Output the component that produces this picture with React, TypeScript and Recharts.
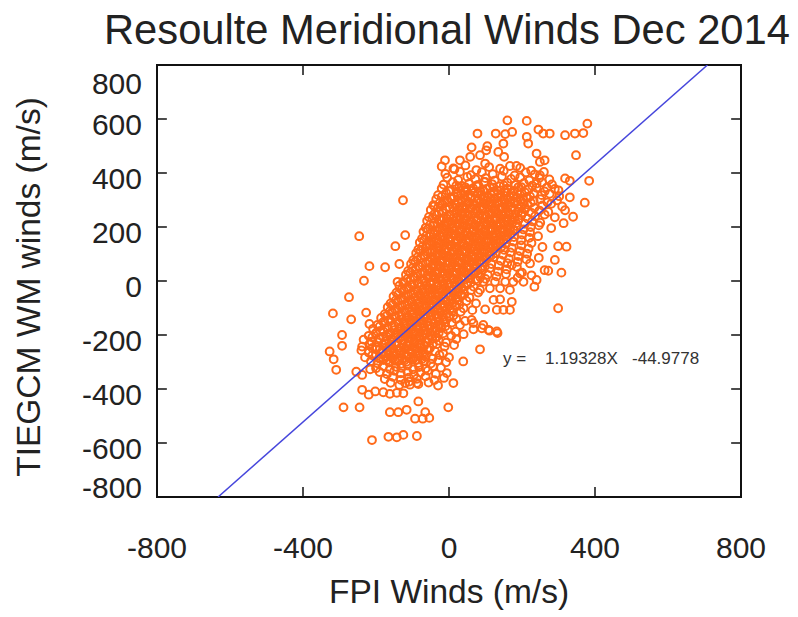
import {
  ReferenceArea,
  ReferenceDot,
  ReferenceLine,
  Scatter,
  ScatterChart,
  XAxis,
  YAxis,
} from "recharts";

const FONT = '"Liberation Sans", Arial, Helvetica, sans-serif';
const DOT_COLOR = "#ff6a1a";
const LINE_COLOR = "#4646dc";

// regression fit printed on the plot
const SLOPE = 1.19328;
const INTERCEPT = -44.9778;

const X_TICKS = [-800, -400, 0, 400, 800];
const Y_TICKS = [-800, -600, -400, -200, 0, 200, 400, 600, 800];

// FPI (x) vs TIEGCM (y), m/s
const sparseUpper = [
  [160, 595], [213, 593], [379, 583], [78, 546], [128, 546], [154, 544], [173, 552],
  [213, 534], [245, 561], [258, 546], [276, 546], [318, 540], [345, 546], [368, 548],
  [217, 509], [149, 509], [62, 495], [105, 499], [102, 484], [85, 466], [135, 478],
  [151, 460], [-11, 447], [30, 447], [58, 460], [12, 417], [99, 435], [240, 472],
  [249, 441], [262, 447], [348, 466], [167, 426], [185, 426], [384, 371], [318, 380],
  [331, 371], [372, 290], [331, 310], [-126, 299], [-43, 281], [-6, 299], [21, 330],
  [80, 355], [99, 367], [249, 392], [240, 361], [268, 346], [300, 336], [318, 262],
  [340, 238], [314, 214],
];

const sparseRight = [
  [322, 127], [299, 129], [222, 65], [290, 78], [272, 38], [308, 31], [240, 4],
  [234, -21], [172, 59], [195, 28], [204, -3], [176, -3], [154, -3], [126, -3], [94, -3],
  [167, -33], [140, -27], [112, -27], [85, -33], [172, -77], [140, -68], [122, -70],
  [167, -107], [149, -107], [131, -107], [99, -105], [299, -101], [62, -144], [94, -163],
  [108, -181], [131, -187], [67, -179], [-6, 213], [39, 213], [85, -253], [39, -298],
  [12, -378], [67, -156], [90, -175], [111, -184], [133, -193], [-6, -341],
];

const sparseLeft = [
  [-246, 166], [-120, 170], [-147, 129], [-41, 179], [-56, 139], [-33, 142], [-218, 55],
  [-175, 51], [-136, 63], [-233, 1], [-141, -3], [-274, -60], [-318, -120], [-268, -142],
  [-227, -117], [-218, -159], [-293, -200], [-6, 219], [-2, 176],
];

const sparseLower = [
  [-293, -240], [-327, -261], [-316, -290], [-309, -329], [-254, -336], [-238, -348],
  [-216, -327], [-238, -403], [-220, -421], [-202, -409], [-289, -468], [-245, -468],
  [-162, -486], [-139, -486], [-116, -477], [-93, -510], [-72, -510], [-54, -507],
  [-65, -486], [-84, -446], [-211, -589], [-166, -577], [-143, -579], [-125, -570],
  [-88, -574], [-2, -468], [-180, -412], [-162, -418], [-143, -414], [-125, -416],
  [-120, -378], [-107, -384], [-88, -378],
];

const coreUpper = [
  [-20, 424], [15, 414], [45, 428], [75, 411], [110, 422], [140, 416], [195, 419], [225, 409],
  [-10, 397], [30, 405], [60, 392], [90, 403], [120, 396], [150, 408], [180, 391], [210, 402], [235, 395], [260, 404],
  [-5, 383], [25, 374], [50, 386], [72, 377], [100, 381], [125, 372], [145, 387], [170, 378], [195, 384], [220, 373], [248, 382], [275, 376],
  [-15, 357], [10, 366], [35, 352], [55, 361], [78, 355], [96, 367], [118, 359], [138, 351], [160, 364], [182, 356], [205, 362], [228, 353], [255, 365], [282, 358],
  [-20, 343], [5, 335], [28, 347], [48, 338], [66, 344], [86, 333], [104, 341], [122, 346], [142, 336], [160, 342], [178, 334], [198, 348], [218, 339], [240, 345], [262, 332], [290, 341],
  [-30, 318], [-8, 326], [14, 313], [34, 322], [52, 316], [70, 327], [88, 319], [106, 312], [124, 324], [142, 317], [158, 328], [176, 315], [194, 321], [212, 311], [232, 325], [254, 318], [276, 323], [302, 314],
  [-35, 303], [-12, 296], [8, 305], [26, 293], [44, 301], [60, 307], [76, 295], [94, 302], [110, 292], [126, 304], [144, 298], [160, 306], [178, 294], [196, 300], [214, 308], [232, 297], [250, 303], [270, 291], [296, 299],
  [-40, 277], [-18, 285], [2, 273], [20, 282], [36, 276], [52, 287], [68, 279], [84, 272], [100, 284], [116, 278], [132, 286], [148, 274], [164, 281], [180, 288], [198, 275], [216, 283], [234, 271], [256, 280], [280, 286], [310, 276],
  [-50, 263], [-28, 255], [-8, 266], [12, 258], [28, 262], [44, 253], [60, 267], [76, 259], [92, 264], [108, 256], [124, 261], [140, 268], [156, 254], [172, 263], [190, 257], [208, 266], [226, 252], [248, 261], [272, 256],
  [-55, 237], [-34, 245], [-14, 233], [4, 242], [20, 236], [36, 247], [52, 239], [68, 232], [84, 244], [100, 238], [116, 246], [132, 234], [148, 241], [164, 248], [180, 235], [198, 243], [216, 231], [236, 240], [262, 246], [290, 236],
  [-60, 223], [-40, 215], [-20, 226], [-2, 218], [14, 222], [30, 213], [46, 227], [62, 219], [78, 224], [94, 216], [110, 221], [126, 228], [142, 214], [158, 223], [174, 217], [190, 226], [208, 212], [228, 221], [250, 216],
  [-64, 197], [-44, 205], [-26, 193], [-8, 202], [8, 196], [24, 207], [40, 199], [56, 192], [72, 204], [88, 198], [104, 206], [120, 194], [136, 201], [152, 208], [168, 195], [186, 203], [204, 191], [224, 200], [246, 206], [280, 196],
  [-70, 183], [-50, 175], [-32, 186], [-14, 178], [2, 182], [18, 173], [34, 187], [50, 179], [66, 184], [82, 176], [98, 181], [114, 188], [130, 174], [146, 183], [162, 177], [180, 186], [200, 172], [222, 181],
  [-74, 157], [-54, 165], [-36, 153], [-18, 162], [-2, 156], [14, 167], [30, 159], [46, 152], [62, 164], [78, 158], [94, 166], [110, 154], [126, 161], [142, 168], [160, 155], [178, 163], [198, 151], [220, 160], [244, 166],
  [-80, 143], [-60, 135], [-42, 146], [-24, 138], [-8, 142], [8, 133], [24, 147], [40, 139], [56, 144], [72, 136], [88, 141], [104, 148], [120, 134], [138, 143], [156, 137], [176, 146], [198, 132], [226, 141],
  [-84, 117], [-64, 125], [-46, 113], [-28, 122], [-12, 116], [4, 127], [20, 119], [36, 112], [52, 124], [68, 118], [84, 126], [100, 114], [116, 121], [134, 128], [152, 115], [172, 123], [194, 111], [218, 120], [256, 126],
  [-90, 103], [-70, 95], [-52, 106], [-34, 98], [-18, 102], [-2, 93], [14, 107], [30, 99], [46, 104], [62, 96], [78, 101], [94, 108], [110, 94], [128, 103], [148, 97], [168, 106], [190, 92], [214, 101],
];

const coreMiddle = [
  [-98, 77], [-78, 85], [-58, 73], [-40, 82], [-24, 76], [-8, 87], [8, 79], [24, 72], [40, 84], [56, 78], [72, 86], [88, 74], [104, 81], [122, 88], [142, 75], [164, 83], [188, 71], [212, 80], [246, 86],
  [-104, 63], [-84, 55], [-64, 66], [-46, 58], [-30, 62], [-14, 53], [2, 67], [18, 59], [34, 64], [50, 56], [66, 61], [82, 68], [98, 54], [116, 63], [136, 57], [160, 66], [186, 52],
  [-112, 37], [-92, 45], [-72, 33], [-54, 42], [-38, 36], [-22, 47], [-6, 39], [10, 32], [26, 44], [42, 38], [58, 46], [74, 34], [92, 41], [112, 48], [134, 35], [158, 43], [200, 31], [262, 40],
  [-118, 23], [-98, 15], [-78, 26], [-60, 18], [-44, 22], [-28, 13], [-12, 27], [4, 19], [20, 24], [36, 16], [52, 21], [68, 28], [86, 14], [106, 23], [130, 17], [156, 26], [188, 12], [226, 21],
  [-126, -3], [-106, 5], [-86, -7], [-68, 2], [-52, -4], [-36, 7], [-20, -1], [-4, -8], [12, 4], [28, -2], [44, 6], [60, -6], [78, 1], [100, 8],
  [-136, -17], [-116, -25], [-96, -13], [-78, -22], [-62, -16], [-46, -27], [-30, -19], [-14, -12], [2, -24], [18, -18], [34, -26], [50, -14], [68, -21],
  [-144, -43], [-124, -35], [-104, -46], [-86, -38], [-70, -42], [-54, -33], [-38, -47], [-22, -39], [-6, -44], [10, -36], [26, -41], [42, -48], [60, -34], [80, -43],
  [-152, -57], [-132, -65], [-112, -53], [-94, -62], [-78, -56], [-62, -67], [-46, -59], [-30, -52], [-14, -64], [2, -58], [18, -66], [36, -54], [56, -61],
  [-160, -83], [-140, -75], [-120, -86], [-102, -78], [-86, -82], [-70, -73], [-54, -87], [-38, -79], [-22, -84], [-6, -76], [10, -81], [28, -88], [48, -74], [74, -83],
  [-168, -97], [-148, -105], [-128, -93], [-110, -102], [-94, -96], [-78, -107], [-62, -99], [-46, -92], [-30, -104], [-14, -98], [2, -106], [20, -94], [40, -101], [64, -108],
];

const coreLower = [
  [-176, -123], [-156, -115], [-136, -126], [-118, -118], [-102, -122], [-86, -113], [-70, -127], [-54, -119], [-38, -124], [-22, -116], [-6, -121], [12, -128], [32, -114],
  [-186, -137], [-166, -145], [-146, -133], [-128, -142], [-112, -136], [-96, -147], [-80, -139], [-64, -132], [-48, -144], [-32, -138], [-16, -146], [0, -134], [20, -141], [44, -148],
  [-196, -163], [-176, -155], [-156, -166], [-138, -158], [-122, -162], [-106, -153], [-90, -167], [-74, -159], [-58, -164], [-42, -156], [-26, -161], [-10, -168], [8, -154], [30, -163],
  [-208, -177], [-188, -185], [-168, -173], [-150, -182], [-134, -176], [-118, -187], [-102, -179], [-86, -172], [-70, -184], [-54, -178], [-38, -186], [-22, -174], [-4, -181], [18, -188],
  [-220, -203], [-200, -195], [-180, -206], [-162, -198], [-146, -202], [-130, -193], [-114, -207], [-98, -199], [-82, -204], [-66, -196], [-50, -201], [-34, -208], [-16, -194], [6, -203], [40, -197],
  [-234, -217], [-212, -225], [-192, -213], [-174, -222], [-158, -216], [-142, -227], [-126, -219], [-110, -212], [-94, -224], [-78, -218], [-62, -226], [-46, -214], [-28, -221], [-8, -228], [20, -215],
  [-238, -243], [-218, -235], [-198, -246], [-180, -238], [-164, -242], [-148, -233], [-132, -247], [-116, -239], [-100, -244], [-84, -236], [-68, -241], [-52, -248], [-34, -234], [-12, -243], [14, -237],
  [-240, -257], [-220, -265], [-200, -253], [-184, -262], [-168, -256], [-152, -267], [-136, -259], [-120, -252], [-104, -264], [-88, -258], [-72, -266], [-56, -254], [-38, -261], [-16, -268],
  [-230, -283], [-210, -275], [-192, -286], [-176, -278], [-160, -282], [-144, -273], [-128, -287], [-112, -279], [-96, -284], [-80, -276], [-64, -281], [-46, -288], [-26, -274], [0, -283],
  [-214, -297], [-196, -305], [-180, -293], [-164, -302], [-148, -296], [-132, -307], [-116, -299], [-100, -292], [-84, -304], [-68, -298], [-50, -306], [-30, -294], [-8, -301],
  [-200, -323], [-180, -315], [-162, -326], [-146, -318], [-130, -322], [-114, -313], [-98, -327], [-82, -319], [-64, -324], [-44, -316], [-22, -321],
  [-190, -337], [-170, -345], [-150, -333], [-132, -342], [-114, -336], [-96, -347], [-78, -339], [-58, -332], [-36, -344],
  [-176, -363], [-154, -355], [-132, -366], [-110, -358], [-88, -362], [-64, -353], [-40, -367], [-14, -359],
  [-160, -377], [-136, -385], [-110, -373], [-84, -382], [-56, -376], [-30, -387],
];

// the heavily overplotted band along the fit line
const coreDense = [
  [20, 353], [45, 347], [75, 352], [112, 346], [150, 354], [190, 348],
  [0, 333], [24, 326], [44, 331], [62, 335], [80, 327], [96, 332], [114, 325], [133, 334], [152, 329], [170, 326], [188, 333], [208, 328],
  [-20, 312], [4, 306], [24, 314], [43, 308], [61, 311], [79, 305], [97, 313], [115, 307], [133, 310], [150, 304], [167, 312], [185, 309], [203, 305], [222, 313],
  [-26, 288], [-4, 293], [16, 286], [35, 291], [52, 294], [68, 287], [85, 290], [102, 295], [118, 288], [135, 292], [152, 285], [169, 291], [187, 294], [205, 287], [224, 290],
  [-30, 272], [-8, 266], [12, 271], [28, 274], [44, 268], [60, 273], [76, 266], [92, 270], [108, 275], [124, 267], [140, 272], [156, 269], [172, 274], [190, 268], [208, 271],
  [-40, 248], [-18, 253], [2, 246], [20, 251], [36, 254], [52, 247], [68, 252], [84, 249], [100, 245], [116, 253], [132, 250], [148, 246], [164, 252], [182, 248], [200, 254],
  [-46, 232], [-26, 227], [-6, 231], [12, 234], [28, 228], [44, 233], [60, 226], [76, 230], [92, 235], [108, 227], [124, 232], [140, 229], [156, 234], [172, 228], [190, 231],
  [-52, 208], [-32, 213], [-12, 206], [6, 211], [22, 214], [38, 207], [54, 212], [70, 209], [86, 205], [102, 213], [118, 210], [134, 206], [150, 212], [166, 208], [184, 214],
  [-58, 192], [-38, 187], [-18, 191], [0, 194], [16, 188], [32, 193], [48, 186], [64, 190], [80, 195], [96, 187], [112, 192], [128, 189], [144, 194], [160, 188], [176, 191],
  [-62, 168], [-42, 173], [-24, 166], [-6, 171], [10, 174], [26, 167], [42, 172], [58, 169], [74, 165], [90, 173], [106, 170], [122, 166], [138, 172], [154, 168], [170, 174],
  [-68, 152], [-48, 147], [-30, 151], [-12, 154], [4, 148], [20, 153], [36, 146], [52, 150], [68, 155], [84, 147], [100, 152], [116, 149], [132, 154], [148, 148],
  [-72, 128], [-52, 133], [-34, 126], [-16, 131], [0, 134], [16, 127], [32, 132], [48, 129], [64, 125], [80, 133], [96, 130], [112, 126], [128, 132], [144, 128],
  [-78, 112], [-58, 107], [-40, 111], [-22, 114], [-6, 108], [10, 113], [26, 106], [42, 110], [58, 115], [74, 107], [90, 112], [106, 109], [122, 114],
  [-86, 88], [-66, 93], [-48, 86], [-30, 91], [-14, 94], [2, 87], [18, 92], [34, 89], [50, 85], [66, 93], [82, 90], [98, 86], [114, 92],
  [-92, 72], [-72, 67], [-52, 71], [-36, 74], [-20, 68], [-4, 73], [12, 66], [28, 70], [44, 75], [60, 67], [76, 72], [92, 69],
  [-100, 48], [-80, 53], [-60, 46], [-42, 51], [-26, 54], [-10, 47], [6, 52], [22, 49], [38, 45], [54, 53], [70, 50], [86, 46],
  [-106, 32], [-86, 27], [-66, 31], [-48, 34], [-32, 28], [-16, 33], [0, 26], [16, 30], [32, 35], [48, 27], [64, 32], [80, 29],
  [-114, 8], [-94, 13], [-74, 6], [-56, 11], [-40, 14], [-24, 7], [-8, 12], [8, 9], [24, 5], [40, 13], [56, 10], [72, 6],
  [-122, -8], [-102, -13], [-82, -9], [-64, -6], [-48, -12], [-32, -7], [-16, -14], [0, -10], [16, -5], [32, -13], [48, -8],
  [-130, -32], [-110, -27], [-90, -31], [-72, -34], [-56, -28], [-40, -33], [-24, -26], [-8, -30], [8, -35], [24, -27], [40, -32],
  [-138, -48], [-118, -53], [-98, -46], [-80, -51], [-64, -54], [-48, -47], [-32, -52], [-16, -49], [0, -45], [16, -53], [32, -50],
  [-146, -72], [-126, -67], [-106, -71], [-88, -74], [-72, -68], [-56, -73], [-40, -66], [-24, -70], [-8, -75], [8, -67], [24, -72],
  [-154, -88], [-134, -93], [-114, -86], [-96, -91], [-80, -94], [-64, -87], [-48, -92], [-32, -89], [-16, -85], [0, -93], [16, -90],
  [-162, -112], [-142, -107], [-122, -111], [-104, -114], [-88, -108], [-72, -113], [-56, -106], [-40, -110], [-24, -115], [-8, -107], [8, -112],
  [-170, -128], [-150, -133], [-130, -126], [-112, -131], [-96, -134], [-80, -127], [-64, -132], [-48, -129], [-32, -125], [-16, -133], [2, -130],
  [-180, -152], [-160, -147], [-140, -151], [-122, -154], [-106, -148], [-90, -153], [-74, -146], [-58, -150], [-42, -155], [-26, -147], [-10, -152],
  [-190, -168], [-170, -173], [-150, -166], [-132, -171], [-116, -174], [-100, -167], [-84, -172], [-68, -169], [-52, -165], [-36, -173], [-20, -170],
  [-200, -192], [-180, -187], [-160, -191], [-142, -194], [-126, -188], [-110, -193], [-94, -186], [-78, -190], [-62, -195], [-46, -187], [-28, -192],
  [-210, -208], [-190, -213], [-170, -206], [-152, -211], [-136, -214], [-120, -207], [-104, -212], [-88, -209], [-72, -205], [-56, -213], [-38, -210],
  [-216, -232], [-196, -227], [-176, -231], [-158, -234], [-142, -228], [-126, -233], [-110, -226], [-94, -230], [-78, -235], [-62, -227], [-44, -232],
  [-210, -248], [-190, -253], [-172, -246], [-156, -251], [-140, -254], [-124, -247], [-108, -252], [-92, -249], [-76, -245], [-60, -253],
  [-200, -272], [-182, -267], [-166, -271], [-150, -274], [-134, -268], [-118, -273], [-102, -266], [-86, -270], [-70, -275],
  [-188, -288], [-170, -293], [-154, -286], [-138, -291], [-122, -294], [-106, -287], [-90, -292], [-74, -289],
];

const points = [
  ...coreUpper,
  ...coreMiddle,
  ...coreLower,
  ...coreDense,
  ...sparseUpper,
  ...sparseRight,
  ...sparseLeft,
  ...sparseLower,
].map(([x, y]) => ({ x, y }));

const xAtY = (y: number) => (y - INTERCEPT) / SLOPE;

// fit line end points on the frame, drawn as a series so it sits over the dots
const fitLine = [-800, 800].map((y) => ({ x: xAtY(y), y }));

// inner tick length, in data units (about 10px)
const TICK_DX = 27;
const TICK_DY = 37;

const Ring = (props: any) => (
  <circle
    cx={props.cx}
    cy={props.cy}
    r={3.9}
    fill="none"
    stroke={DOT_COLOR}
    strokeWidth={2}
  />
);

const NoDot = () => <g />;

const XTick = ({ x, y, payload }: any) => (
  <text
    x={x}
    y={y}
    dy="0.71em"
    textAnchor="middle"
    fontSize={30}
    fill="#222"
    fontFamily={FONT}
  >
    {payload.value}
  </text>
);

const YTick = ({ x, y, payload }: any) => {
  const shift = payload.value === 800 ? 18 : payload.value === -800 ? -10 : 5;
  return (
    <text
      x={x}
      y={y + shift}
      dy="0.355em"
      textAnchor="end"
      fontSize={30}
      fill="#222"
      fontFamily={FONT}
    >
      {payload.value}
    </text>
  );
};

const YLabel = ({ viewBox }: any) => {
  const cx = viewBox.x + 28;
  const cy = viewBox.y + viewBox.height / 2 + 6;
  return (
    <text
      x={cx}
      y={cy}
      dy="0.355em"
      transform={`rotate(-90 ${cx} ${cy})`}
      textAnchor="middle"
      fontSize={33.5}
      fill="#222"
      fontFamily={FONT}
    >
      TIEGCM WM winds (m/s)
    </text>
  );
};

const FitLabel = ({ viewBox }: any) => (
  <text
    x={viewBox.x}
    y={viewBox.y + 6}
    fontSize={17}
    fill="#333"
    fontFamily={FONT}
    style={{ whiteSpace: "pre" }}
  >
    {`y =    ${SLOPE}X   ${INTERCEPT}`}
  </text>
);

export default function App() {
  return (
    <div style={{ position: "absolute", left: 0, top: 0, width: 798, height: 617, background: "#fff" }}>
      <div
        style={{
          position: "absolute",
          left: 104,
          top: 6,
          fontSize: 41.7,
          lineHeight: "48px",
          fontFamily: FONT,
          color: "#222",
          whiteSpace: "nowrap",
        }}
      >
        Resoulte Meridional Winds Dec 2014
      </div>
      <ScatterChart
        width={798}
        height={617}
        margin={{ top: 65, right: 57, bottom: 0, left: 0 }}
      >
        <XAxis
          type="number"
          dataKey="x"
          domain={[-800, 800]}
          ticks={X_TICKS}
          interval={0}
          allowDataOverflow
          axisLine={false}
          tickLine={false}
          tickSize={0}
          tickMargin={40}
          height={120}
          tick={<XTick />}
          label={{
            value: "FPI Winds (m/s)",
            position: "insideBottom",
            offset: 14,
            fontSize: 33.5,
            fill: "#222",
            fontFamily: FONT,
          }}
        />
        <YAxis
          type="number"
          dataKey="y"
          domain={[-800, 800]}
          ticks={Y_TICKS}
          interval={0}
          allowDataOverflow
          axisLine={false}
          tickLine={false}
          tickSize={0}
          tickMargin={15}
          width={157}
          tick={<YTick />}
          label={{ content: YLabel }}
        />
        <Scatter data={points} shape={Ring} isAnimationActive={false} />
        <Scatter
          data={fitLine}
          shape={NoDot}
          line={{ stroke: LINE_COLOR, strokeWidth: 1.5 }}
          legendType="none"
          isAnimationActive={false}
        />
        <ReferenceDot x={148} y={-285} r={0} fill="none" stroke="none" label={FitLabel} />
        {X_TICKS.slice(1, -1).map((t) => (
          <ReferenceLine key={`bx${t}`} segment={[{ x: t, y: -800 }, { x: t, y: -800 + TICK_DY }]} stroke="#111" strokeWidth={1.5} />
        ))}
        {X_TICKS.slice(1, -1).map((t) => (
          <ReferenceLine key={`tx${t}`} segment={[{ x: t, y: 800 }, { x: t, y: 800 - TICK_DY }]} stroke="#111" strokeWidth={1.5} />
        ))}
        {Y_TICKS.slice(1, -1).map((t) => (
          <ReferenceLine key={`ly${t}`} segment={[{ x: -800, y: t }, { x: -800 + TICK_DX, y: t }]} stroke="#111" strokeWidth={1.5} />
        ))}
        {Y_TICKS.slice(1, -1).map((t) => (
          <ReferenceLine key={`ry${t}`} segment={[{ x: 800, y: t }, { x: 800 - TICK_DX, y: t }]} stroke="#111" strokeWidth={1.5} />
        ))}
        <ReferenceArea
          x1={-800}
          x2={800}
          y1={-800}
          y2={800}
          fill="none"
          stroke="#111"
          strokeWidth={2}
        />
      </ScatterChart>
    </div>
  );
}
